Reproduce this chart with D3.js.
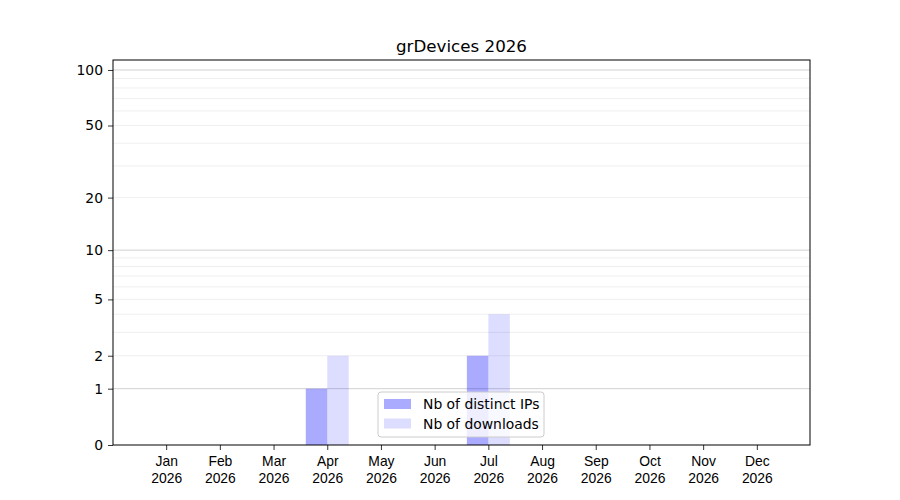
<!DOCTYPE html>
<html><head><meta charset="utf-8">
<script src="https://cdn.jsdelivr.net/npm/d3@7"></script>
<style>body{margin:0;background:#fff}svg{font-family:"DejaVu Sans",sans-serif}</style>
</head><body>
<svg id="c" width="900" height="500"></svg>
<script>
const months = ["Jan","Feb","Mar","Apr","May","Jun","Jul","Aug","Sep","Oct","Nov","Dec"];
const year = "2026";
const distinctIPs = [0,0,0,1,0,0,2,0,0,0,0,0];
const downloads   = [0,0,0,2,0,0,4,0,0,0,0,0];
const yTicks = [0,1,2,5,10,20,50,100];
const majorGrid = [1,10,100];
const minorGrid = [2,3,4,5,6,7,8,9,20,30,40,50,60,70,80,90];
const title = "grDevices 2026";
const seriesNames = ["Nb of distinct IPs","Nb of downloads"];

const svg = d3.select("#c");
const L=113, R=810, T=60, B=445;
const x = d3.scaleLinear().domain([-0.99,11.99]).range([L,R]);
const y = d3.scaleSymlog().constant(1).domain([0,113.2]).range([B,T]);

// grid
svg.append("g").selectAll("line").data(minorGrid).join("line")
  .attr("x1",L).attr("x2",R).attr("y1",d=>y(d)).attr("y2",d=>y(d))
  .attr("stroke","#ebebeb").attr("stroke-width",0.8);
svg.append("g").selectAll("line").data(majorGrid).join("line")
  .attr("x1",L).attr("x2",R).attr("y1",d=>y(d)).attr("y2",d=>y(d))
  .attr("stroke","#cccccc").attr("stroke-width",0.9);

const bw = 0.4;
svg.append("g").selectAll("rect").data(distinctIPs).join("rect")
  .attr("x",(d,i)=>x(i-bw)).attr("width",(d,i)=>x(i)-x(i-bw))
  .attr("y",d=>y(d)).attr("height",d=>B-y(d))
  .attr("fill","blue").attr("fill-opacity",0.333);
svg.append("g").selectAll("rect").data(downloads).join("rect")
  .attr("x",(d,i)=>x(i)).attr("width",(d,i)=>x(i+bw)-x(i))
  .attr("y",d=>y(d)).attr("height",d=>B-y(d))
  .attr("fill","blue").attr("fill-opacity",0.135);

// axes
const ya = svg.append("g").attr("transform",`translate(${L},0)`)
  .call(d3.axisLeft(y).tickValues(yTicks).tickFormat(d3.format("d")).tickSize(5).tickPadding(5));
const xa = svg.append("g").attr("transform",`translate(0,${B})`)
  .call(d3.axisBottom(x).tickValues(d3.range(12)).tickFormat(()=> "").tickSize(5));
[ya,xa].forEach(a=>{a.select(".domain").remove();a.selectAll("text").attr("font-size",13.9).attr("font-family","DejaVu Sans").attr("fill","#000");a.selectAll("line").attr("stroke","#000").attr("stroke-width",0.8);});
xa.selectAll(".tick").append("text").attr("text-anchor","middle").attr("font-size",13.9).attr("fill","#000")
  .each(function(d){
    const t=d3.select(this);
    t.append("tspan").attr("x",0).attr("y",21).text(months[d]);
    t.append("tspan").attr("x",0).attr("y",38).text(year);
  });

svg.append("rect").attr("x",L).attr("y",T).attr("width",R-L).attr("height",B-T)
  .attr("fill","none").attr("stroke","#000").attr("stroke-width",1);

svg.append("text").attr("x",(L+R)/2).attr("y",52).attr("text-anchor","middle")
  .attr("font-size",16.7).text(title);

// legend
const lg = svg.append("g").attr("transform","translate(378,392)");
lg.append("rect").attr("width",166).attr("height",45).attr("rx",3)
  .attr("fill","#fff").attr("fill-opacity",0.8).attr("stroke","#cccccc").attr("stroke-width",1);
const ops=[0.333,0.135];
seriesNames.forEach((n,i)=>{
  lg.append("rect").attr("x",6).attr("y",7+i*19.5).attr("width",27).attr("height",10)
    .attr("fill","blue").attr("fill-opacity",ops[i]);
  lg.append("text").attr("x",45).attr("y",17+i*19.5).attr("font-size",13.9).text(n);
});
</script>
</body></html>
